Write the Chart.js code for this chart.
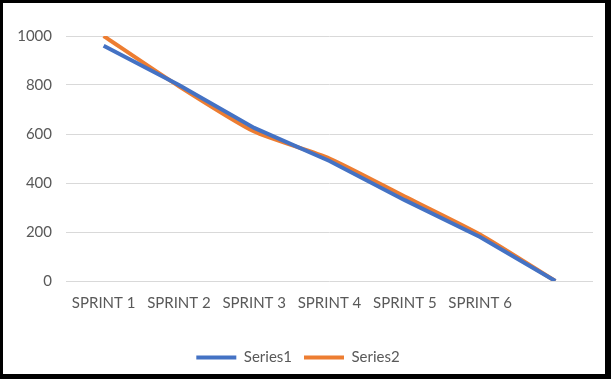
<!DOCTYPE html>
<html>
<head>
<meta charset="utf-8">
<script src="https://cdn.jsdelivr.net/npm/chart.js@4"></script>
<style>
  html, body { margin: 0; padding: 0; background: #fff; }
  #wrap { position: relative; width: 611px; height: 379px; }
  #frame {
    position: absolute; left: 0; top: 0; right: 0; bottom: 0;
    box-sizing: border-box;
    border-style: solid; border-color: #000;
    border-width: 3px 6px 5px 3px;
    pointer-events: none;
  }
</style>
</head>
<body>
<div id="wrap">
  <canvas id="grafico" width="611" height="379"></canvas>
  <div id="frame"></div>
</div>
<script>
// datos
const sprints = ['SPRINT 1', 'SPRINT 2', 'SPRINT 3', 'SPRINT 4', 'SPRINT 5', 'SPRINT 6', ''];
const serie1 = [960, 800, 625, 490, 330, 180, 0];
const serie2 = [1000, 795, 610, 500, 345, 190, 0];
const ticksY = [0, 200, 400, 600, 800, 1000];

document.addEventListener("DOMContentLoaded", function() {
    const ctx = document.getElementById('grafico').getContext('2d');
    const fuente = { family: 'Lato, "Liberation Sans", sans-serif', size: 15 };

    new Chart(ctx, {
        type: 'line',
        data: {
            labels: sprints,
            datasets: [{
                label: 'Series1',
                data: serie1,
                borderColor: '#4472c4',
                backgroundColor: '#4472c4',
                borderWidth: 4,
                pointRadius: 0,
                tension: 0
            }, {
                label: 'Series2',
                data: serie2,
                borderColor: '#ed7d31',
                backgroundColor: '#ed7d31',
                borderWidth: 4,
                pointRadius: 0,
                tension: 0.2
            }]
        },
        options: {
            responsive: false,
            animation: false,
            layout: { padding: { left: 3, right: 18, top: 36, bottom: 4 } },
            plugins: {
                tooltip: { enabled: false },
                legend: {
                    position: 'bottom',
                    labels: {
                        usePointStyle: true,
                        pointStyle: 'line',
                        pointStyleWidth: 40,
                        padding: 12,
                        color: '#595959',
                        font: fuente
                    }
                }
            },
            scales: {
                x: {
                    offset: true,
                    grid: { display: false, drawTicks: false },
                    border: { display: false },
                    ticks: { color: '#595959', font: fuente, padding: 13, maxRotation: 0, autoSkip: false },
                    afterFit: function(scale) { scale.height = 57; }
                },
                y: {
                    min: 0,
                    max: 1000,
                    afterBuildTicks: function(scale) {
                        scale.ticks = ticksY.map(v => ({ value: v }));
                    },
                    grid: { color: '#d9d9d9', lineWidth: 1, drawTicks: false },
                    border: { display: false },
                    ticks: {
                        color: '#595959',
                        font: fuente,
                        padding: 14,
                        callback: function(valor) { return String(valor); }
                    },
                    afterFit: function(scale) { scale.width = 63; }
                }
            }
        }
    });
});
</script>
</body>
</html>
